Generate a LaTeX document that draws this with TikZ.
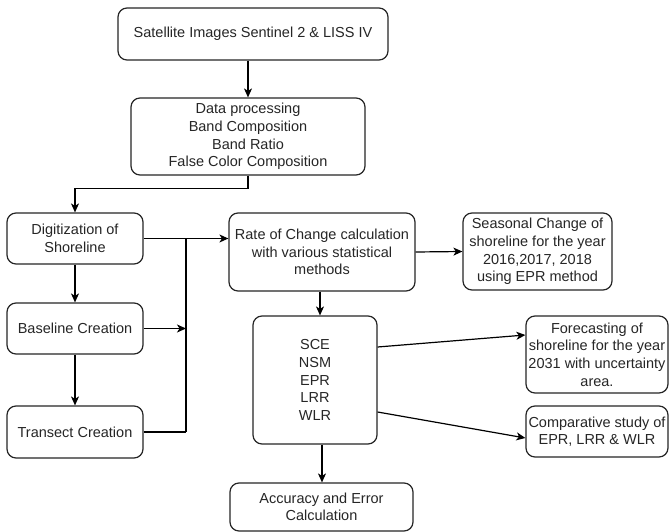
\documentclass[tikz,border=0pt]{standalone}
\usepackage{fontspec}
\setmainfont{Liberation Sans}
\usetikzlibrary{arrows.meta}
\begin{document}
\begin{tikzpicture}[x=1pt,y=-1pt,
  box/.style={draw=black!85, line width=1.2pt, rounded corners=9pt, inner sep=0pt,
    align=center, font=\fontsize{14.5}{17.6}\selectfont, text=black!85},
  conn/.style={draw=black, line width=1.2pt},
  arr/.style={conn, -{Stealth[length=9pt,width=8pt,inset=2.5pt]}}]
\useasboundingbox (0,0) rectangle (670,532);
\fill[white] (0,0) rectangle (670,532);
\node[box, minimum width=270pt, minimum height=52pt] (sat) at (253,34) {Satellite Images Sentinel 2 \& LISS IV};
\node[box, minimum width=234pt, minimum height=77pt] (dp) at (248,136.5) {Data processing\\Band Composition\\Band Ratio\\False Color Composition};
\node[box, minimum width=136pt, minimum height=51pt] (dig) at (75,238.5) {Digitization of\\Shoreline};
\node[box, minimum width=136pt, minimum height=51pt] (base) at (75,328.5) {Baseline Creation};
\node[box, minimum width=136pt, minimum height=52pt] (tran) at (75,432) {Transect Creation};
\node[box, minimum width=186pt, minimum height=78pt] (rate) at (322,252) {Rate of Change calculation\\with various statistical\\methods};
\node[box, minimum width=149pt, minimum height=77pt] (seas) at (537.5,251.5) {Seasonal Change of\\shoreline for the year\\2016,2017, 2018\\using EPR method};
\node[box, minimum width=124pt, minimum height=128pt] (sce) at (315,380) {SCE\\NSM\\EPR\\LRR\\WLR};
\node[box, minimum width=142pt, minimum height=77pt] (fore) at (597,354.5) {Forecasting of\\shoreline for the year\\2031 with uncertainty\\area.};
\node[box, minimum width=142pt, minimum height=51pt] (comp) at (597,431.5) {Comparative study of\\EPR, LRR \& WLR};
\node[box, minimum width=183pt, minimum height=48pt] (acc) at (321.5,507) {Accuracy and Error\\Calculation};
\coordinate (bus) at (186,0);
% connectors
\draw[arr] (dp.north |- sat.south) -- (dp.north);
\draw[arr] (dp.south) -- ++(0,13) -| (dig.north);
\draw[arr] (dig.south) -- (base.north);
\draw[arr] (base.south) -- (tran.north);
\draw[arr] (dig.east) -- (rate.west |- dig.east);
\draw[conn] (bus |- dig.east) -- (bus |- tran.east);
\draw[arr] (base.east) -- (bus |- base.east);
\draw[conn] (tran.east) -- (bus |- tran.east);
\draw[arr] (rate.east) -- (seas.west);
\draw[arr] (320,0 |- rate.south) -- (320,0 |- sce.north);
\draw[arr] ([yshift=33pt]sce.east) -- ([yshift=19.5pt]fore.west);
\draw[arr] ([yshift=-32pt]sce.east) -- ([yshift=-6.5pt]comp.west);
\draw[arr] (322,0 |- sce.south) -- (322,0 |- acc.north);
\end{tikzpicture}
\end{document}
